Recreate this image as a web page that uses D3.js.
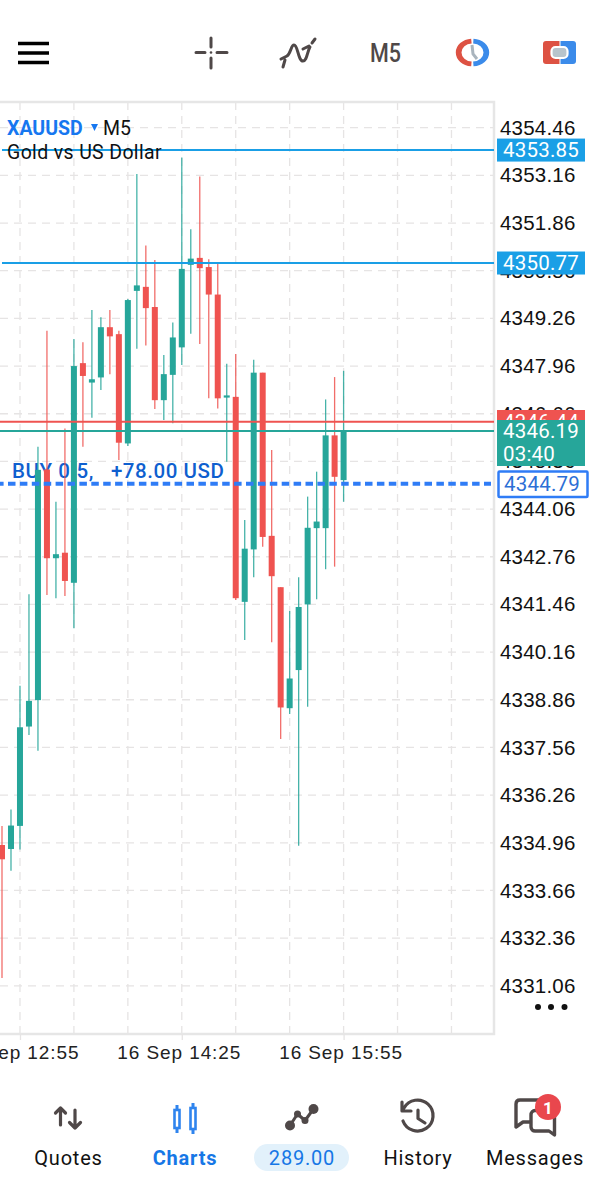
<!DOCTYPE html>
<html>
<head>
<meta charset="utf-8">
<script src="https://d3js.org/d3.v7.min.js"></script>
<style>
html,body{margin:0;padding:0;background:#fff;overflow:hidden;}
svg{display:block;font-family:Roboto,sans-serif;}
.yAxis text{font-size:20.5px;fill:#111;letter-spacing:.2px;}
.xAxis text{font-size:19px;fill:#222;letter-spacing:.9px;}
.nav{font-size:20px;fill:#111;letter-spacing:.8px;text-anchor:middle;}
.ico{fill:none;stroke:#4f4848;stroke-linecap:round;stroke-linejoin:round;}
</style>
</head>
<body>
<svg id="chart" width="603" height="1199"></svg>
<script>
// candles, oldest first
var opens=[4334.90,4334.79,4335.42,4338.13,4338.85,4345.14,4342.72,4342.87,4342.05,4348.04,4347.51,4347.65,4349.02,4348.83,4345.85,4350.01,4350.12,4349.57,4347.03,4347.72,4348.47,4350.72,4350.91,4350.66,4349.91,4347.10,4347.12,4341.53,4342.96,4347.78,4343.33,4341.93,4338.63,4339.67,4341.46,4343.54,4343.54,4346.07,4344.85];
var closes=[4334.51,4335.43,4338.11,4338.83,4345.13,4342.72,4342.83,4342.10,4347.96,4347.69,4347.60,4349.02,4348.77,4345.87,4349.76,4350.16,4349.54,4347.03,4347.74,4348.74,4350.61,4350.89,4350.63,4349.91,4347.08,4347.16,4341.63,4342.98,4347.78,4343.30,4342.23,4338.65,4339.44,4341.39,4343.55,4343.72,4346.07,4344.94,4346.17];
var highs=[4335.42,4335.87,4339.24,4341.74,4345.76,4348.92,4344.26,4346.26,4348.70,4348.61,4349.49,4349.29,4349.49,4348.92,4349.79,4353.20,4351.25,4350.85,4348.26,4349.15,4353.65,4351.69,4353.13,4350.87,4350.78,4348.02,4348.29,4343.76,4348.13,4347.78,4345.67,4341.93,4341.28,4342.20,4344.40,4345.08,4347.05,4347.66,4347.83];
var lows=[4331.27,4334.20,4334.78,4337.90,4337.47,4341.72,4341.63,4341.69,4340.81,4345.76,4346.55,4347.31,4347.74,4345.40,4345.78,4348.43,4348.52,4346.79,4346.49,4346.40,4347.99,4348.84,4348.56,4347.08,4346.80,4345.35,4341.58,4340.49,4342.20,4343.03,4340.43,4337.79,4338.47,4334.88,4338.67,4341.60,4342.42,4342.49,4344.26];

var yTicks=[4354.46,4353.16,4351.86,4350.56,4349.26,4347.96,4346.66,4345.36,4344.06,4342.76,4341.46,4340.16,4338.86,4337.56,4336.26,4334.96,4333.66,4332.36,4331.06];
var gridBars=[2,8,14,20,26,32,38,44,50];
var timeBars=[2,20,38];
var timeLabels=["16 Sep 12:55","16 Sep 14:25","16 Sep 15:55"];

var levelPrices=[4353.85,4350.77];
var askPrice=4346.44;
var bidPrice=4346.19;
var buyPrice=4344.79;
var countdown="03:40";
var buyLabel="BUY 0.5,   +78.00 USD";

var green="#26a69a";
var red="#ef5350";
var levelBlue="#1a9fe6";
var dashBlue="#2f7cf6";
var gridColor="#e6e4e4";

var frame={left:-3,right:494,top:102,bottom:1034};
var svg=d3.select("#chart");

var bars=opens.map(function(d,i){
  return {i:i,open:d,close:closes[i],high:highs[i],low:lows[i]};
});

var xScale=d3.scaleLinear()
             .domain([0,38])
             .range([2,343.6]);
var yScale=d3.scaleLinear()
             .domain([4354.46,4331.06])
             .range([127.7,985.8]);

// grid
svg.append("g").selectAll("line")
   .data(yTicks)
   .enter()
   .append("line")
   .attr("x1",0)
   .attr("x2",frame.right)
   .attr("y1",function(d){return yScale(d);})
   .attr("y2",function(d){return yScale(d);})
   .attr("stroke",gridColor)
   .attr("stroke-width",1.3)
   .attr("stroke-dasharray","8,6");
svg.append("g").selectAll("line")
   .data(gridBars)
   .enter()
   .append("line")
   .attr("x1",function(d){return xScale(d);})
   .attr("x2",function(d){return xScale(d);})
   .attr("y1",frame.top)
   .attr("y2",frame.bottom)
   .attr("stroke",gridColor)
   .attr("stroke-width",1.3)
   .attr("stroke-dasharray","8,6");

svg.append("rect")
   .attr("x",frame.left)
   .attr("y",frame.top)
   .attr("width",frame.right-frame.left)
   .attr("height",frame.bottom-frame.top)
   .attr("fill","none")
   .attr("stroke","#e6e6e6")
   .attr("stroke-width",2.5);

// axes
var yAxis=d3.axisRight(yScale)
            .tickValues(yTicks)
            .tickSize(0)
            .tickPadding(6)
            .tickFormat(d3.format(".2f"));
svg.append("g")
   .classed("yAxis",true)
   .attr("transform","translate("+frame.right+",0)")
   .call(yAxis)
   .call(function(g){g.select(".domain").remove();});

var xAxis=d3.axisBottom(xScale)
            .tickValues(timeBars)
            .tickSize(6)
            .tickPadding(6)
            .tickFormat(function(d,i){return timeLabels[i];});
svg.append("g")
   .classed("xAxis",true)
   .attr("transform","translate(0,"+frame.bottom+")")
   .call(xAxis)
   .call(function(g){
     g.select(".domain").remove();
     g.selectAll("line").attr("stroke",gridColor).attr("stroke-width",1.3);
     g.selectAll("text").attr("dx",-3);
   });

// trade label sits under the candles
svg.append("text")
   .attr("x",12)
   .attr("y",478)
   .attr("xml:space","preserve")
   .style("white-space","pre")
   .style("font-size","20.5px")
   .style("font-weight",500)
   .style("letter-spacing",".55px")
   .attr("fill","#0f5fcf")
   .text(buyLabel);

// candles
var candle=svg.append("g").selectAll("g")
              .data(bars)
              .enter()
              .append("g")
              .attr("fill",function(d){return d.close>=d.open?green:red;})
              .attr("stroke",function(d){return d.close>=d.open?green:red;});
candle.append("line")
      .attr("x1",function(d){return xScale(d.i);})
      .attr("x2",function(d){return xScale(d.i);})
      .attr("y1",function(d){return yScale(d.high);})
      .attr("y2",function(d){return yScale(d.low);})
      .attr("stroke-width",1.3)
      .attr("stroke-opacity",.85);
candle.append("rect")
      .attr("x",function(d){return xScale(d.i)-3;})
      .attr("width",6)
      .attr("y",function(d){return yScale(Math.max(d.open,d.close));})
      .attr("height",function(d){return Math.abs(yScale(d.open)-yScale(d.close));})
      .attr("stroke","none");

// position line goes over the candles, app draws it about 1.5px below the price
svg.append("line")
   .attr("x1",0)
   .attr("x2",frame.right-3)
   .attr("y1",yScale(buyPrice)+1.5)
   .attr("y2",yScale(buyPrice)+1.5)
   .attr("stroke",dashBlue)
   .attr("stroke-width",4)
   .attr("stroke-dasharray","7.5,4.4")
   .attr("stroke-dashoffset",-8);

// price lines
svg.append("g").selectAll("line")
   .data(levelPrices)
   .enter()
   .append("line")
   .attr("x1",2)
   .attr("x2",frame.right)
   .attr("y1",function(d){return yScale(d);})
   .attr("y2",function(d){return yScale(d);})
   .attr("stroke",levelBlue)
   .attr("stroke-width",2);
svg.append("line")
   .attr("x1",0).attr("x2",frame.right)
   .attr("y1",yScale(askPrice)).attr("y2",yScale(askPrice))
   .attr("stroke",red).attr("stroke-width",2);
svg.append("line")
   .attr("x1",0).attr("x2",frame.right)
   .attr("y1",yScale(bidPrice)).attr("y2",yScale(bidPrice))
   .attr("stroke",green).attr("stroke-width",2);

// price tags
function tag(price,fill,textFill,y0,h){
  svg.append("rect").attr("x",497).attr("y",y0).attr("width",88).attr("height",h).attr("fill",fill);
  svg.append("text").attr("x",503).attr("y",yScale(price)+7)
     .style("font-size","20.5px").style("letter-spacing",".2px")
     .attr("fill",textFill).text(d3.format(".2f")(price));
}
levelPrices.forEach(function(p){
  tag(p,levelBlue,"#fff",yScale(p)-11.5,23);
});
tag(askPrice,red,"#fff",410,14);
svg.append("rect").attr("x",497).attr("y",420).attr("width",88).attr("height",46).attr("fill",green);
svg.append("text").attr("x",503).attr("y",438).style("font-size","20.5px").style("letter-spacing",".2px").attr("fill","#fff").text(d3.format(".2f")(bidPrice));
svg.append("text").attr("x",503).attr("y",461).style("font-size","20.5px").style("letter-spacing",".2px").attr("fill","#fff").text(countdown);
svg.append("rect").attr("x",498.5).attr("y",471.5).attr("width",89).attr("height",25.5)
   .attr("fill","#fff").attr("stroke",dashBlue).attr("stroke-width",2.5).attr("rx",1);
svg.append("text").attr("x",504).attr("y",491).style("font-size","20.5px").style("letter-spacing",".2px").attr("fill","#2c6fd6").text(d3.format(".2f")(buyPrice));

// symbol header
svg.append("text").attr("x",7).attr("y",134.5).style("font-size","19.5px").style("font-weight",700).attr("fill","#1677f0").text("XAUUSD");
svg.append("path").attr("d","M91,124h7l-3.5,7z").attr("fill","#1677f0");
svg.append("text").attr("x",103).attr("y",134.5).style("font-size","19.5px").attr("fill","#111").text("M5");
svg.append("text").attr("x",7).attr("y",158.5).style("font-size","19.5px").style("letter-spacing",".35px").attr("fill","#111").text("Gold vs US Dollar");

// more dots
svg.append("g").attr("fill","#111").selectAll("circle")
   .data([538,551,564.5]).enter().append("circle")
   .attr("cx",function(d){return d;}).attr("cy",1007).attr("r",3);

// top bar
svg.append("path").attr("d","M18,43.5H49M18,53H49M18,62.5H49").attr("stroke","#000").attr("stroke-width",3.6).attr("fill","none");
svg.append("path").attr("class","ico").attr("stroke-width",3).attr("d","M211,38V47M211,58V68M196,52.5H205M217,52.5H227");
svg.append("circle").attr("cx",211).attr("cy",52.5).attr("r",1.3).attr("fill","#4f4848");
svg.append("path").attr("class","ico").attr("stroke-width",3).attr("d","M283,67L285,60M281,59L287,56C291,53 291,45 294,45C298,45 298,61 303,61C307,61 307,52 310,47M303,49L309,46M312,43L315,39");
svg.append("text").attr("transform","translate(385.5,61.5) scale(.86,1)").attr("text-anchor","middle").style("font-size","25px").style("font-weight",500).attr("fill","#4f4848").text("M5");
// clock, drawn a bit flat like the picture
svg.append("path").attr("d",d3.arc()({innerRadius:11,outerRadius:16.7,startAngle:-Math.PI+.08,endAngle:-.08})).attr("transform","translate(472.5,52.5) scale(1,.83)").attr("fill","#dd5243");
svg.append("path").attr("d",d3.arc()({innerRadius:11,outerRadius:16.7,startAngle:.06,endAngle:Math.PI-.06})).attr("transform","translate(472.5,52.5) scale(1,.83)").attr("fill","#3b8bea");
svg.append("path").attr("d","M472,45L473,54L477,59").attr("fill","none").attr("stroke","#a9b4bd").attr("stroke-width",3);
// one click trading
svg.append("path").attr("d","M546,41H559.5V64H546a3,3 0 0 1 -3,-3V44a3,3 0 0 1 3,-3z").attr("fill","#dd5243");
svg.append("path").attr("d","M560.5,41H573a3,3 0 0 1 3,3V61a3,3 0 0 1 -3,3H560.5z").attr("fill","#3b8bea");
svg.append("rect").attr("x",551.5).attr("y",47).attr("width",16).attr("height",11).attr("rx",4).attr("fill","#b8c4cc").attr("stroke","#fff").attr("stroke-width",2.2);

// bottom bar
svg.append("path").attr("class","ico").attr("stroke-width",3.2).attr("d","M60.5,1125V1108M55.5,1113L60.5,1108L65.5,1113M75,1110V1128M69.5,1122.5L75,1128L80.5,1122.5");
var blueIco="#2f84ee";
svg.append("path").attr("d","M177,1105V1133M193,1103V1134").attr("stroke",blueIco).attr("stroke-width",3);
svg.append("rect").attr("x",174.5).attr("y",1110).attr("width",5).attr("height",18).attr("fill","#fff").attr("stroke",blueIco).attr("stroke-width",2.6);
svg.append("rect").attr("x",190.5).attr("y",1108).attr("width",5).attr("height",21).attr("fill","#fff").attr("stroke",blueIco).attr("stroke-width",2.6);
svg.append("path").attr("class","ico").attr("stroke-width",3).attr("d","M290,1125.5L297.5,1114L305,1120.5L313.5,1109");
svg.append("g").attr("fill","#4f4848").selectAll("circle")
   .data([[290,1125.5,5],[297.5,1114,3.5],[305,1120.5,3.5],[313.5,1109,5]]).enter().append("circle")
   .attr("cx",function(d){return d[0];}).attr("cy",function(d){return d[1];}).attr("r",function(d){return d[2];});
svg.append("path").attr("class","ico").attr("stroke-width",3.2).attr("d","M404,1108A15.5,15.5 0 1 1 403,1121M402,1102V1111H411M418,1110V1118.5L425,1123");
svg.append("path").attr("class","ico").attr("stroke-width",3.4).attr("d","M530,1122H523L516,1127V1104C516,1101 518,1100 520,1100H540M531,1115C531,1112 533,1110.5 535,1110.5H551C553,1110.5 554.5,1112 554.5,1114V1135L549,1131H535C533,1131 531,1129.5 531,1127z");
svg.append("circle").attr("cx",548).attr("cy",1107).attr("r",13).attr("fill","#e9474d");
svg.append("text").attr("x",548).attr("y",1113.5).attr("text-anchor","middle").style("font-size","17px").style("font-weight",700).attr("fill","#fff").text("1");
svg.append("rect").attr("x",254).attr("y",1144).attr("width",95).attr("height",27).attr("rx",13.5).attr("fill","#e2f1fb");

var navNames=["Quotes","Charts","289.00","History","Messages"];
var navX=[68.5,185,302,418,535];
var navColor=["#111","#1677e6","#1677e6","#111","#111"];
svg.append("g").selectAll("text")
   .data(navNames).enter().append("text")
   .classed("nav",true)
   .attr("x",function(d,i){return navX[i];})
   .attr("y",1165)
   .style("fill",function(d,i){return navColor[i];})
   .style("font-weight",function(d){return d=="Charts"?700:400;})
   .text(function(d){return d;});
</script>
</body>
</html>
